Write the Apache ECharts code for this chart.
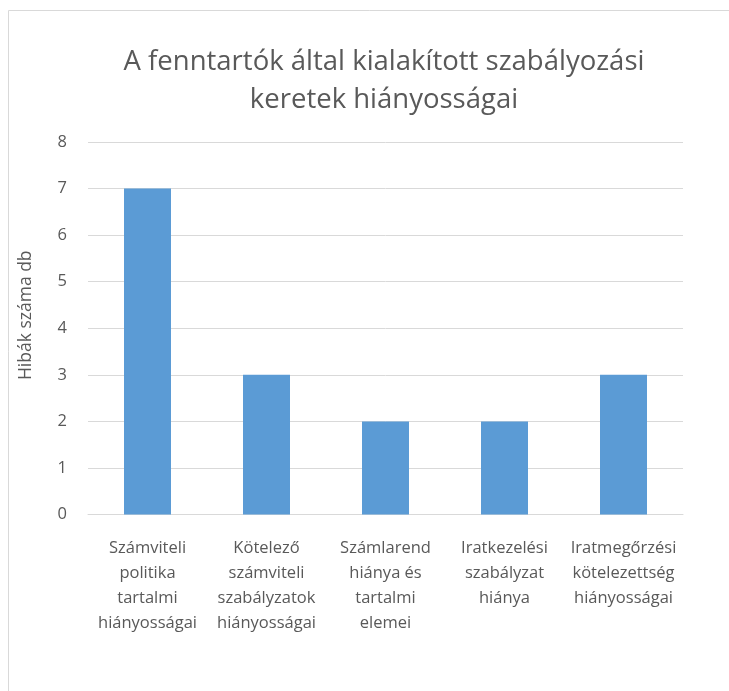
<!DOCTYPE html>
<html>
<head>
<meta charset="utf-8">
<script src="https://cdn.jsdelivr.net/npm/echarts@6/dist/echarts.min.js"></script>
<style>
  html, body { margin: 0; padding: 0; background: #fff; }
  #main { width: 729px; height: 691px; }
</style>
</head>
<body>
<div id="main"></div>
<script>
// adatok
var categories = [
    'Számviteli\npolitika\ntartalmi\nhiányosságai',
    'Kötelező\nszámviteli\nszabályzatok\nhiányosságai',
    'Számlarend\nhiánya és\ntartalmi\nelemei',
    'Iratkezelési\nszabályzat\nhiánya',
    'Iratmegőrzési\nkötelezettség\nhiányosságai'
];
var hibak = [7, 3, 2, 2, 3];
var chartTitle = 'A fenntartók által kialakított szabályozási\nkeretek hiányosságai';
var yName = 'Hibák száma db';

var font = '"Open Sans", "Noto Sans", sans-serif';
var textColor = '#595959';

var chart = echarts.init(document.getElementById('main'));
chart.setOption({
    animation: false,
    graphic: [{
        type: 'rect',
        shape: { x: 8.5, y: 10.5, width: 740, height: 700 },
        style: { fill: 'none', stroke: '#D9D9D9', lineWidth: 1 },
        silent: true
    }],
    title: {
        text: chartTitle,
        left: 384,
        textAlign: 'center',
        top: 43,
        padding: 0,
        textStyle: {
            fontFamily: font,
            fontSize: 27.5,
            fontWeight: 'normal',
            color: textColor,
            lineHeight: 38
        }
    },
    grid: {
        left: 88,
        right: 46,
        top: 142,
        bottom: 176.5,
        containLabel: false
    },
    xAxis: {
        type: 'category',
        data: categories,
        axisTick: { show: false },
        axisLine: { lineStyle: { color: '#D9D9D9', width: 1 } },
        axisLabel: {
            interval: 0,
            margin: 21,
            fontFamily: font,
            fontSize: 16.5,
            lineHeight: 25,
            color: textColor
        }
    },
    yAxis: {
        type: 'value',
        min: 0,
        max: 8,
        interval: 1,
        name: yName,
        nameLocation: 'middle',
        nameRotate: 90,
        nameGap: 53,
        nameTextStyle: {
            fontFamily: font,
            fontSize: 17.5,
            color: textColor,
            padding: [0, 0, 0, 26]
        },
        axisLine: { show: false },
        axisTick: { show: false },
        axisLabel: {
            margin: 21,
            fontFamily: font,
            fontSize: 16.5,
            color: textColor
        },
        splitLine: { lineStyle: { color: '#D9D9D9', width: 1 } }
    },
    series: [{
        type: 'bar',
        data: hibak,
        barWidth: 47,
        itemStyle: { color: '#5B9BD5' }
    }]
});
</script>
</body>
</html>
